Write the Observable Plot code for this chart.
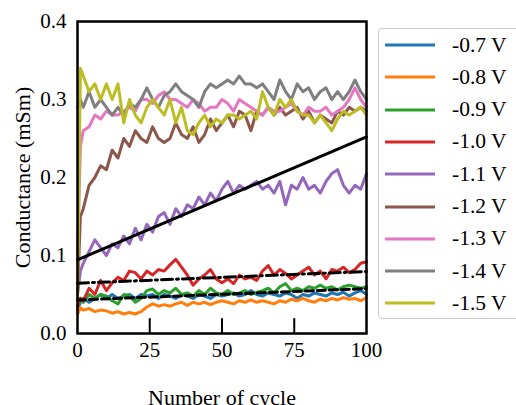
<!DOCTYPE html>
<html>
<head>
<meta charset="utf-8">
<script src="https://cdn.jsdelivr.net/npm/d3@7"></script>
<script src="https://cdn.jsdelivr.net/npm/@observablehq/plot@0.6"></script>
<style>
  html, body { margin: 0; padding: 0; background: white; }
  #wrap { position: relative; width: 516px; height: 405px; overflow: hidden; }
  #legend { position: absolute; left: 378px; top: 28px; width: 150px; height: 291px;
    border: 1.5px solid #cccccc; border-radius: 4px; background: white; box-sizing: border-box;
    font-family: "Liberation Serif", "Times New Roman", serif; font-size: 21.5px; }
  .item { position: absolute; left: 0; height: 24px; display: flex; align-items: center; }
  .item svg { margin-left: 6px; }
  .item span { margin-left: 17px; white-space: nowrap; }
</style>
</head>
<body>
<div id="wrap"><div id="chart"></div><div id="legend"></div></div>
<script>
const cycles = [0,1,2,4,6,8,10,12,14,16,18,20,22,24,26,28,30,32,34,36,38,40,42,44,46,48,50,52,54,56,58,60,62,64,66,68,70,72,74,76,78,80,82,84,86,88,90,92,94,96,98,100];

const seriesLabels = ["-0.7 V","-0.8 V","-0.9 V","-1.0 V","-1.1 V","-1.2 V","-1.3 V","-1.4 V","-1.5 V"];
const seriesColors = ["#1f77b4","#ff7f0e","#2ca02c","#d62728","#9467bd","#8c564b","#e377c2","#7f7f7f","#bcbd22"];

const v07 = [0.030,0.040,0.045,0.040,0.045,0.050,0.045,0.050,0.045,0.048,0.050,0.045,0.050,0.048,0.050,0.045,0.050,0.048,0.045,0.050,0.048,0.045,0.050,0.048,0.045,0.050,0.048,0.050,0.052,0.048,0.050,0.055,0.050,0.048,0.052,0.050,0.048,0.052,0.050,0.045,0.050,0.048,0.052,0.050,0.048,0.052,0.050,0.053,0.048,0.052,0.055,0.050];
const v08 = [0.025,0.033,0.030,0.032,0.028,0.030,0.029,0.026,0.028,0.025,0.027,0.025,0.028,0.034,0.038,0.035,0.037,0.035,0.038,0.040,0.036,0.040,0.038,0.040,0.037,0.040,0.042,0.040,0.038,0.042,0.040,0.043,0.040,0.042,0.040,0.038,0.042,0.040,0.044,0.042,0.045,0.042,0.040,0.044,0.042,0.045,0.043,0.046,0.044,0.045,0.042,0.046];
const v09 = [0.035,0.045,0.040,0.050,0.045,0.050,0.048,0.042,0.038,0.050,0.048,0.040,0.045,0.055,0.057,0.050,0.055,0.052,0.058,0.050,0.052,0.048,0.055,0.050,0.058,0.052,0.050,0.055,0.050,0.052,0.055,0.050,0.053,0.055,0.058,0.052,0.060,0.064,0.055,0.058,0.055,0.060,0.058,0.062,0.058,0.060,0.056,0.060,0.062,0.060,0.058,0.060];
const v10 = [0.035,0.045,0.042,0.058,0.050,0.068,0.055,0.065,0.072,0.068,0.080,0.078,0.070,0.080,0.075,0.082,0.080,0.088,0.095,0.085,0.075,0.062,0.070,0.075,0.082,0.070,0.065,0.070,0.064,0.075,0.070,0.072,0.068,0.080,0.087,0.075,0.082,0.077,0.070,0.075,0.080,0.085,0.075,0.080,0.070,0.082,0.080,0.085,0.078,0.082,0.090,0.092];
const v11 = [0.050,0.080,0.090,0.105,0.120,0.110,0.100,0.115,0.110,0.125,0.115,0.135,0.120,0.140,0.130,0.150,0.155,0.140,0.160,0.150,0.165,0.160,0.175,0.165,0.180,0.170,0.185,0.195,0.180,0.190,0.185,0.190,0.195,0.185,0.190,0.180,0.195,0.165,0.190,0.185,0.200,0.185,0.190,0.180,0.195,0.205,0.210,0.190,0.180,0.190,0.185,0.205];
const v12 = [0.050,0.150,0.160,0.190,0.200,0.215,0.210,0.235,0.225,0.250,0.240,0.260,0.250,0.245,0.265,0.250,0.245,0.250,0.270,0.255,0.250,0.265,0.245,0.255,0.275,0.260,0.270,0.280,0.265,0.285,0.280,0.260,0.285,0.280,0.290,0.280,0.290,0.280,0.285,0.290,0.275,0.285,0.270,0.280,0.275,0.270,0.285,0.280,0.290,0.285,0.290,0.285];
const v13 = [0.100,0.240,0.260,0.265,0.280,0.275,0.285,0.280,0.280,0.285,0.290,0.285,0.300,0.300,0.295,0.305,0.310,0.300,0.300,0.295,0.290,0.300,0.295,0.285,0.290,0.290,0.300,0.295,0.285,0.300,0.295,0.290,0.285,0.280,0.290,0.285,0.285,0.290,0.295,0.285,0.280,0.290,0.285,0.285,0.290,0.280,0.285,0.290,0.300,0.315,0.300,0.290];
const v14 = [0.290,0.300,0.290,0.310,0.290,0.300,0.290,0.280,0.290,0.280,0.295,0.290,0.300,0.315,0.300,0.290,0.305,0.310,0.320,0.310,0.305,0.300,0.290,0.310,0.320,0.315,0.320,0.325,0.320,0.330,0.320,0.320,0.315,0.320,0.310,0.300,0.325,0.310,0.300,0.320,0.310,0.315,0.300,0.310,0.315,0.300,0.310,0.300,0.310,0.325,0.310,0.300];
const v15 = [0.040,0.340,0.330,0.310,0.320,0.300,0.320,0.300,0.320,0.270,0.300,0.280,0.270,0.290,0.300,0.290,0.280,0.300,0.270,0.290,0.260,0.255,0.270,0.280,0.265,0.275,0.270,0.280,0.280,0.275,0.280,0.285,0.275,0.310,0.290,0.280,0.300,0.290,0.300,0.285,0.280,0.280,0.270,0.280,0.270,0.260,0.275,0.285,0.280,0.285,0.290,0.280];

const seriesValues = [v07, v08, v09, v10, v11, v12, v13, v14, v15];

const fitCycles = [0, 100];
const fit11 = [0.0945, 0.252];
const fit10 = [0.0645, 0.0795];
const fit09 = [0.043, 0.0575];

const yTicks = [0, 0.1, 0.2, 0.3, 0.4];
const xTicks = [0, 25, 50, 75, 100];
const innerTicks = [25, 50, 75];

const rows = seriesLabels.flatMap((s, i) => cycles.map((c, j) => ({series: s, cycle: c, value: seriesValues[i][j]})));
const fitRows = (arr) => fitCycles.map((c, j) => ({cycle: c, value: arr[j]}));

const font = "Liberation Serif, Times New Roman, serif";

const chart = Plot.plot({
  width: 516, height: 405,
  marginLeft: 77, marginRight: 150, marginTop: 21, marginBottom: 72,
  x: {domain: [0, 100]},
  y: {domain: [0, 0.4]},
  color: {domain: seriesLabels, range: seriesColors},
  style: {fontFamily: font, fontSize: "20px", background: "white", color: "black", overflow: "visible"},
  marks: [
    Plot.axisY({ticks: yTicks, tickFormat: d3.format(".1f"), tickSize: 0, tickPadding: 11, label: null, fontSize: 21}),
    Plot.axisX({ticks: xTicks, tickSize: 0, tickPadding: 9, label: null, fontSize: 21}),
    Plot.ruleX(innerTicks, {y1: 0, y2: 0.019, stroke: "black", strokeWidth: 2}),
    Plot.line(rows, {x: "cycle", y: "value", z: "series", stroke: "series", strokeWidth: 3, strokeLinejoin: "round"}),
    Plot.line(fitRows(fit11), {x: "cycle", y: "value", stroke: "black", strokeWidth: 3}),
    Plot.line(fitRows(fit10), {x: "cycle", y: "value", stroke: "black", strokeWidth: 3, strokeDasharray: "11,4,2,4"}),
    Plot.line(fitRows(fit09), {x: "cycle", y: "value", stroke: "black", strokeWidth: 3, strokeDasharray: "8,4"}),
    Plot.frame({stroke: "black", strokeWidth: 2.5}),
    Plot.text(["Number of cycle"], {frameAnchor: "bottom", dy: 71, text: d => d, fontSize: 22, fill: "black"}),
    Plot.text(["Conductance (mSm)"], {frameAnchor: "left", dx: -55, text: d => d, rotate: -90, textAnchor: "middle", fontSize: 22, fill: "black"})
  ]
});
document.getElementById("chart").appendChild(chart);

const legend = document.getElementById("legend");
seriesLabels.forEach((s, i) => {
  const item = document.createElement("div");
  item.className = "item";
  item.style.top = (4 + i * 32.3) + "px";
  item.innerHTML = `<svg width="50" height="6"><line x1="0" y1="3" x2="50" y2="3" stroke="${seriesColors[i]}" stroke-width="3"/></svg><span>${s}</span>`;
  legend.appendChild(item);
});
</script>
</body>
</html>
